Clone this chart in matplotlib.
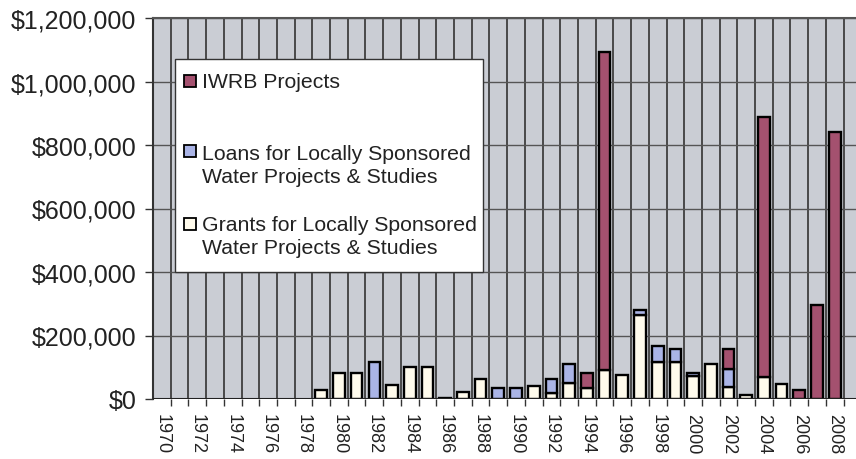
import matplotlib
matplotlib.use("Agg")
import matplotlib.pyplot as plt
import numpy as np
from matplotlib.patches import Rectangle
from matplotlib.ticker import StrMethodFormatter

plt.rcParams['font.family'] = ['Liberation Sans', 'DejaVu Sans']

# Datos (ano a ano, 1970-2008)
anos = list(range(1970, 2009))

grants = [0, 0, 0, 0, 0, 0, 0, 0, 0, 27000,
          82000, 82000, 0, 44000, 102000, 102000, 4000, 21000, 63000, 0,
          0, 40000, 20000, 49000, 35000, 90000, 76000, 266000, 118000, 115000,
          71000, 111000, 39000, 13000, 68000, 47000, 0, 0, 0]

loans = [0, 0, 0, 0, 0, 0, 0, 0, 0, 0,
         0, 0, 116000, 0, 0, 0, 0, 0, 0, 35000,
         35000, 0, 42000, 60000, 0, 0, 0, 14000, 50000, 42000,
         12000, 0, 56000, 0, 0, 0, 0, 0, 0]

iwrb = [0, 0, 0, 0, 0, 0, 0, 0, 0, 0,
        0, 0, 0, 0, 0, 0, 0, 0, 0, 0,
        0, 0, 0, 0, 46000, 1003000, 0, 0, 0, 0,
        0, 0, 63000, 0, 821000, 0, 29000, 295000, 842000]

nomes_series = ["IWRB Projects",
                "Loans for Locally Sponsored\nWater Projects & Studies",
                "Grants for Locally Sponsored\nWater Projects & Studies"]

cor_iwrb = "#a4516f"
cor_loans = "#aab4e6"
cor_grants = "#fffbec"
cor_fundo = "#cacdd4"

W, H = 856, 460
fig = plt.figure(figsize=(W / 100, H / 100), dpi=100)
ax = fig.add_axes([153 / W, 1 - 400 / H, 1 - 153 / W, (400 - 19) / H])
ax.set_facecolor(cor_fundo)

x = np.arange(len(anos))
g = np.array(grants)
l = np.array(loans)
i = np.array(iwrb)
larg = 0.66
borda = dict(edgecolor="black", linewidth=1.7, zorder=3)

# só desenha barras com valor
m = g > 0
ax.bar(x[m], g[m], larg, color=cor_grants, **borda)
m = l > 0
ax.bar(x[m], l[m], larg, bottom=g[m], color=cor_loans, **borda)
m = i > 0
ax.bar(x[m], i[m], larg, bottom=(g + l)[m], color=cor_iwrb, **borda)

ax.set_xlim(-0.5, 39.2)
ax.set_ylim(0, 1200000)

# linhas de grade nas divisões entre anos
ax.set_xticks(np.arange(0.5, 39.5, 1.0))
ax.set_xticklabels([])
ax.set_xticks(x[::2], minor=True)
ax.set_xticklabels([str(a) for a in anos[::2]], minor=True, rotation=-90,
                   fontsize=13, color="#222222")
ax.tick_params(axis="x", which="major", length=5, width=1, color="#333333",
               direction="out")
ax.tick_params(axis="x", which="minor", length=0, pad=10)
ax.grid(axis="x", which="major", color="#333333", linewidth=1.2, zorder=1)

ax.set_yticks(np.arange(0, 1200001, 200000))
ax.yaxis.set_major_formatter(StrMethodFormatter("${x:,.0f}"))
ax.tick_params(axis="y", length=6, width=1, color="#333333", pad=6,
               labelsize=18, labelcolor="#222222")
ax.grid(axis="y", color="#555555", linewidth=1.0, zorder=1)
ax.set_axisbelow(True)

for lado in ["right", "bottom"]:
    ax.spines[lado].set_visible(False)
ax.spines["left"].set_color("#333333")
ax.spines["left"].set_linewidth(1.5)
ax.spines["top"].set_color("#555555")
ax.spines["top"].set_linewidth(1.5)
ax.axhline(0, color="#222222", linewidth=1.5, zorder=4)


# Legenda feita à mão (espaçamento irregular como no original)
def px(xp, yp):
    return xp / W, 1 - yp / H


x0, y0 = px(175, 273)
x1, y1 = px(483, 60)
fig.patches.append(Rectangle((x0, y0), x1 - x0, y1 - y0, transform=fig.transFigure,
                             facecolor="white", edgecolor="#333333", linewidth=1.0,
                             zorder=5))

itens = [(cor_iwrb, 82, 82), (cor_loans, 152, 166), (cor_grants, 225, 237)]
for (cor, ym, yt), nome in zip(itens, nomes_series):
    mx, my = px(184, ym + 6)
    fig.patches.append(Rectangle((mx, my), 12 / W, 12 / H, transform=fig.transFigure,
                                 facecolor=cor, edgecolor="black", linewidth=1.3,
                                 zorder=6))
    tx, ty = px(202, yt)
    fig.text(tx, ty, nome, fontsize=15.3, va="center", ha="left", color="#222222",
             linespacing=1.25, zorder=7)

fig.savefig("out.png", dpi=100)
